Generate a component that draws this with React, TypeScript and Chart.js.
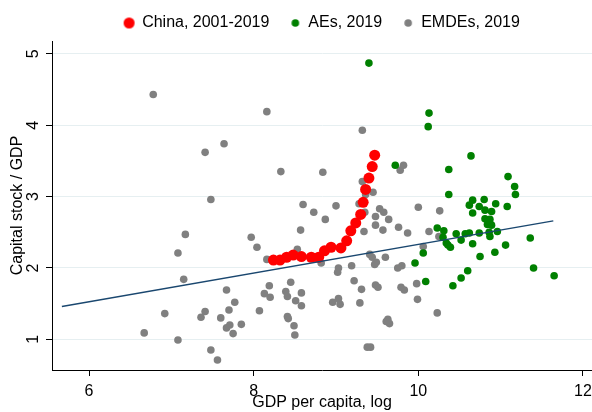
import React, { useEffect, useRef } from "react";
import { Chart, registerables } from "chart.js";

Chart.register(...registerables);

// ---- Data ----
const chinaX = [8.24, 8.32, 8.40, 8.48, 8.58, 8.70, 8.79, 8.86, 8.94, 9.06, 9.13, 9.18, 9.24, 9.30, 9.33, 9.36, 9.40, 9.44, 9.47];
const chinaY = [2.11, 2.11, 2.15, 2.18, 2.16, 2.15, 2.15, 2.24, 2.29, 2.28, 2.38, 2.52, 2.63, 2.75, 2.92, 3.10, 3.26, 3.42, 3.58];

const aeX = [9.40, 10.13, 10.12, 9.72, 10.64, 10.37, 10.37, 11.09, 11.17, 11.18, 11.08, 10.94, 10.80, 10.66, 10.62, 10.74, 10.66, 10.81, 10.89, 10.81, 10.87, 10.84, 10.89, 10.86, 10.87, 10.96, 10.74, 10.62, 10.57, 10.46, 10.52, 10.66, 10.23, 10.31, 10.30, 10.34, 10.36, 10.39, 10.06, 9.96, 10.09, 10.42, 10.52, 10.60, 10.75, 10.93, 11.06, 11.36, 11.40, 11.65];
const aeY = [4.87, 4.17, 3.98, 3.44, 3.57, 3.38, 3.03, 3.28, 3.14, 3.03, 2.86, 2.90, 2.96, 2.95, 2.88, 2.86, 2.77, 2.81, 2.79, 2.69, 2.68, 2.61, 2.60, 2.50, 2.44, 2.51, 2.49, 2.49, 2.48, 2.48, 2.39, 2.34, 2.56, 2.52, 2.43, 2.35, 2.32, 2.29, 2.21, 2.07, 1.81, 1.75, 1.86, 1.96, 2.16, 2.22, 2.32, 2.42, 2.00, 1.89];

const emdeX = [6.78, 8.16, 9.32, 7.41, 7.64, 8.33, 8.84, 7.48, 9.78, 9.82, 9.32, 9.45, 9.36, 8.60, 9.00, 8.73, 8.87, 10.00, 10.26, 9.53, 9.58, 9.48, 9.35, 9.64, 9.28, 9.48, 9.57, 9.34, 9.76, 9.87, 10.13, 10.25, 8.57, 7.97, 8.04, 7.17, 7.08, 7.15, 8.53, 8.16, 8.82, 9.41, 9.44, 9.49, 9.47, 9.60, 9.19, 9.03, 9.02, 9.75, 9.80, 9.22, 9.31, 9.48, 9.51, 9.79, 9.83, 9.98, 9.99, 8.45, 8.19, 8.13, 8.20, 8.39, 8.41, 8.58, 8.51, 8.58, 8.96, 9.03, 9.05, 9.29, 8.07, 7.67, 7.77, 7.70, 7.60, 7.71, 7.67, 7.85, 7.75, 7.41, 7.36, 6.92, 6.67, 7.08, 7.48, 7.56, 8.41, 8.42, 8.49, 8.50, 9.61, 9.63, 9.65, 9.38, 9.42, 10.23, 10.06];
const emdeY = [4.43, 4.19, 3.93, 3.62, 3.74, 3.35, 3.34, 2.96, 3.37, 3.44, 3.21, 3.06, 3.03, 2.89, 2.87, 2.78, 2.68, 2.85, 2.80, 2.83, 2.78, 2.72, 2.78, 2.68, 2.90, 2.60, 2.53, 2.51, 2.57, 2.49, 2.51, 2.44, 2.53, 2.43, 2.29, 2.47, 2.21, 1.84, 2.26, 2.12, 2.07, 2.19, 2.15, 2.08, 2.05, 2.15, 2.03, 2.00, 1.94, 2.00, 2.03, 1.82, 1.70, 1.76, 1.73, 1.73, 1.69, 1.78, 1.56, 1.80, 1.75, 1.64, 1.59, 1.67, 1.60, 1.65, 1.54, 1.47, 1.52, 1.57, 1.49, 1.51, 1.40, 1.69, 1.52, 1.41, 1.30, 1.20, 1.16, 1.21, 1.08, 1.39, 1.31, 1.36, 1.09, 0.99, 0.85, 0.71, 1.32, 1.29, 1.19, 1.06, 1.25, 1.28, 1.22, 0.89, 0.89, 1.37, 2.30];

const trendX = [5.67, 11.64];
const trendY = [1.46, 2.66];

const seriesLabels = ["China, 2001-2019", "AEs, 2019", "EMDEs, 2019"];
const xTicks = [6, 8, 10, 12];
const yTicks = [1, 2, 3, 4, 5];
const xTitle = "GDP per capita, log";
const yTitle = "Capital stock / GDP";

const RED = "#ff0000";
const GREEN = "#008000";
const GRAY = "#808080";
const NAVY = "#1a476f";

const zip = (xs: number[], ys: number[]) => xs.map((x, i) => ({ x, y: ys[i] }));

function dotCanvas(color: string, r: number) {
  const c = document.createElement("canvas");
  const s = Math.ceil(r * 2 + 2);
  c.width = s;
  c.height = s;
  const g = c.getContext("2d")!;
  g.fillStyle = color;
  g.beginPath();
  g.arc(s / 2, s / 2, r, 0, Math.PI * 2);
  g.fill();
  return c;
}

export default function App() {
  const ref = useRef<HTMLCanvasElement | null>(null);
  useEffect(() => {
    document.body.style.margin = "0";
    const canvas = ref.current!;
    Chart.defaults.font.family = "'Liberation Sans', Arial, sans-serif";
    Chart.defaults.font.size = 16;
    Chart.defaults.color = "#000";
    const legendDots = [dotCanvas(RED, 5.5), dotCanvas(GREEN, 3.8), dotCanvas(GRAY, 3.8)];
    const chart = new Chart(canvas, {
      type: "scatter",
      data: {
        datasets: [
          { label: seriesLabels[0], data: zip(chinaX, chinaY), backgroundColor: RED, borderWidth: 0, pointRadius: 5.5, order: 1 },
          { label: seriesLabels[1], data: zip(aeX, aeY), backgroundColor: GREEN, borderWidth: 0, pointRadius: 3.8, order: 2 },
          { label: seriesLabels[2], data: zip(emdeX, emdeY), backgroundColor: GRAY, borderWidth: 0, pointRadius: 3.8, order: 3 },
          { label: "fit", type: "line", data: zip(trendX, trendY), borderColor: NAVY, borderWidth: 1.4, pointRadius: 0, showLine: true, fill: false, order: 0 } as any,
        ],
      },
      options: {
        animation: false,
        responsive: false,
        layout: { autoPadding: false, padding: { left: 0, right: 0, top: -6, bottom: 0 } },
        plugins: {
          tooltip: { enabled: false },
          legend: {
            display: true,
            position: "top",
            fullSize: false,
            labels: {
              usePointStyle: true,
              boxWidth: 10,
              boxHeight: 10,
              padding: 21,
              font: { size: 16 },
              color: "#000",
              generateLabels: () =>
                seriesLabels.map((t, i) => ({
                  text: t,
                  fillStyle: [RED, GREEN, GRAY][i],
                  strokeStyle: "rgba(0,0,0,0)",
                  lineWidth: 0,
                  pointStyle: legendDots[i],
                  hidden: false,
                  datasetIndex: i,
                })) as any,
            },
          },
        },
        scales: {
          x: {
            type: "linear",
            min: 5.55,
            max: 12.11,
            afterBuildTicks: (s: any) => { s.ticks = xTicks.map((v) => ({ value: v })); },
            afterFit: (s: any) => { s.height = 42; s.paddingRight = 0; s.paddingLeft = 0; },
            border: { display: true, color: "#000", width: 1 },
            grid: { display: true, drawOnChartArea: false, drawTicks: true, tickLength: 6, tickColor: "#000" },
            ticks: { padding: 6, font: { size: 16 }, color: "#000", maxRotation: 0, autoSkip: false },
            title: { display: true, text: xTitle, font: { size: 16 }, color: "#000", padding: { top: 0, bottom: 0 } },
          },
          y: {
            type: "linear",
            min: 0.57,
            max: 5.18,
            afterBuildTicks: (s: any) => { s.ticks = yTicks.map((v) => ({ value: v })); },
            afterFit: (s: any) => { s.width = 52; },
            border: { display: true, color: "#000", width: 1 },
            grid: { display: true, drawOnChartArea: true, color: "#e6eff1", lineWidth: 1, drawTicks: true, tickLength: 6, tickColor: "#000" },
            ticks: { padding: 8, minRotation: 90, maxRotation: 90, crossAlign: "center", font: { size: 16 }, color: "#000", autoSkip: false },
            title: { display: true, text: yTitle, font: { size: 16 }, color: "#000", padding: { top: 8, bottom: 0 } },
          },
        },
      },
    });
    return () => chart.destroy();
  }, []);
  return (
    <div style={{ position: "fixed", left: 0, top: 0, width: 592, height: 412 }}>
      <canvas ref={ref} width={592} height={412} />
    </div>
  );
}
